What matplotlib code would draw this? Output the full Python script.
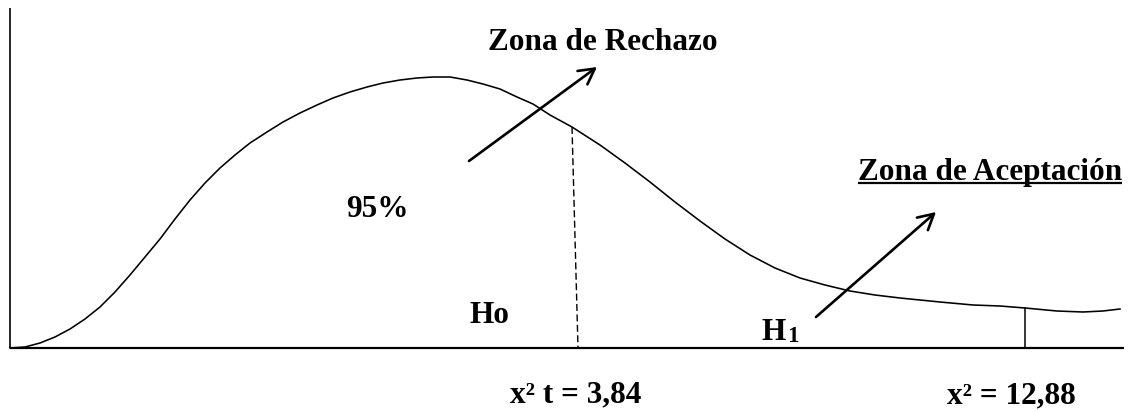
import matplotlib
matplotlib.use("Agg")
import matplotlib.pyplot as plt

# curva (unidades del dibujo: x desde el eje vertical, y desde el eje horizontal)
curva_x = [0, 15, 30, 45, 60, 75, 90, 105, 120, 135, 150, 165, 180, 195, 210, 225, 240,
           257, 273, 290, 307, 323, 340, 357, 373, 390, 407, 423, 440, 457, 473, 490, 507,
           523, 540, 562, 590, 615, 640, 665, 690, 715, 740, 765, 790, 815, 840, 865, 890,
           930, 963, 990, 1015, 1047, 1073, 1093, 1110]
curva_y = [0, 1, 5, 11, 19, 29, 41, 56, 73, 91, 109, 129, 148, 165, 180, 193, 205,
           216, 226, 235, 243, 250, 256, 261, 265, 268, 270, 271, 271, 268, 264, 259, 251,
           244, 233, 221, 203, 185, 166, 146, 127, 109, 93, 80, 70, 63, 57, 53, 50,
           46, 43, 42, 40, 37, 36, 37, 39]

critico_x = [562, 568]      # linea punteada (x2 t = 3,84)
critico_y = [221, 0]
calculado_x = 1015          # linea de x2 = 12,88
calculado_y = 40

eje_x_max = 1114
eje_y_max = 340

etiquetas = {
    "rechazo": "Zona de Rechazo",
    "acepta": "Zona de Aceptación",
    "pct": "95%",
    "h0": "Ho",
    "h1": "H",
    "critico": "x² t = 3,84",
    "calculado": "x² = 12,88",
}

fuente = dict(family="Liberation Serif", fontweight="bold", fontsize=22.5, color="black")

fig = plt.figure(figsize=(11.37, 4.11), dpi=100)
ax = fig.add_axes([0, 0, 1, 1])
ax.set_xlim(-10, 1127)
ax.set_ylim(-63, 348)
ax.axis("off")

# ejes
ax.plot([0, 0], [0, eje_y_max], color="black", lw=1.2, solid_capstyle="butt")
ax.plot([0, eje_x_max], [0, 0], color="black", lw=1.6, solid_capstyle="butt")

# curva
ax.plot(curva_x, curva_y, color="black", lw=1.15, solid_joinstyle="round")

ax.plot(critico_x, critico_y, color="black", lw=1.0, dashes=(5, 2.5))
ax.plot([calculado_x, calculado_x], [0, calculado_y], color="black", lw=1.1)

# flechas
flecha = dict(arrowstyle="->,head_length=0.55,head_width=0.3", lw=1.9, color="black",
              shrinkA=0, shrinkB=0, mutation_scale=20)
ax.annotate("", xy=(587, 281), xytext=(459, 187), arrowprops=flecha)
ax.annotate("", xy=(926, 136), xytext=(806, 31), arrowprops=flecha)

# textos
ax.text(593, 298, etiquetas["rechazo"], ha="center", va="baseline", **fuente)
t_acepta = ax.text(980, 168, etiquetas["acepta"], ha="center", va="baseline", **fuente)
ax.text(367, 131, etiquetas["pct"], ha="center", va="baseline", **fuente)
ax.text(480, 25, etiquetas["h0"], ha="center", va="baseline", **fuente)
ax.text(752, 8, etiquetas["h1"], ha="left", va="baseline", **fuente)
ax.text(777, 6, "1", ha="left", va="baseline", family="Liberation Serif",
        fontweight="bold", fontsize=16.5)
ax.text(566, -54, etiquetas["critico"], ha="center", va="baseline", **fuente)
ax.text(1001, -55, etiquetas["calculado"], ha="center", va="baseline", **fuente)

# subrayado de "Zona de Aceptación"
fig.canvas.draw()
bb = t_acepta.get_window_extent().transformed(ax.transData.inverted())
ax.plot([bb.x0, bb.x1], [165, 165], color="black", lw=1.6, solid_capstyle="butt")

fig.savefig("out.png", dpi=100, facecolor="white")
